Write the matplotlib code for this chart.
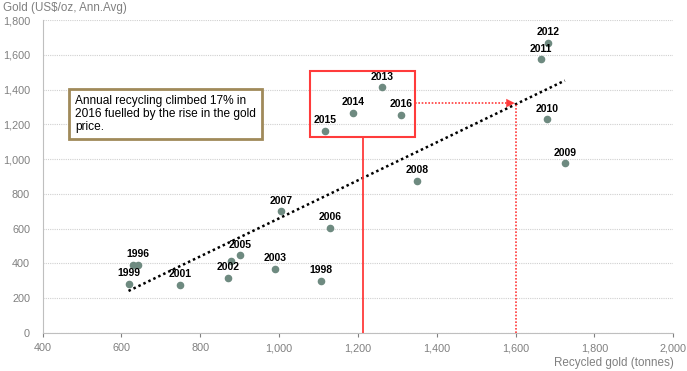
import numpy as np
import matplotlib.pyplot as plt

plt.rcParams['font.family'] = ['Liberation Sans', 'DejaVu Sans']

# recycled gold (tonnes) vs gold price (US$/oz, annual avg)
years = ['', '1996', '1998', '1999', '2001', '2002', '2004', '2005', '2003',
         '2007', '2006', '2008', '2009', '2010', '2011', '2012', '2013',
         '2014', '2015', '2016']
label_on = [False, True, True, True, True, True, False, True, True,
            True, True, True, True, True, True, True, True,
            True, True, True]
recycled = [629, 642, 1107, 618, 748, 871, 879, 901, 990,
            1005, 1130, 1350, 1725, 1679, 1665, 1682, 1261,
            1188, 1116, 1310]
gold = [390, 390, 298, 282, 276, 315, 412, 445, 369,
        699, 605, 875, 975, 1229, 1574, 1670, 1414,
        1267, 1163, 1255]

xticks = [400, 600, 800, 1000, 1200, 1400, 1600, 1800, 2000]
yticks = [0, 200, 400, 600, 800, 1000, 1200, 1400, 1600, 1800]

grey = '#808080'
red = '#ff3b3b'

fig = plt.figure(figsize=(6.87, 3.71), dpi=100)
ax = fig.add_axes([0.062, 0.103, 0.918, 0.843])

ax.set_xlim(400, 2000)
ax.set_ylim(0, 1800)
ax.set_xticks(xticks)
ax.set_yticks(yticks)
ax.set_xticklabels(['{:,}'.format(v) for v in xticks])
ax.set_yticklabels(['{:,}'.format(v) for v in yticks])
ax.tick_params(colors=grey, labelsize=7.8, length=3, width=0.8)
ax.tick_params(axis='x', pad=4.5)
ax.tick_params(axis='y', length=0, pad=9)
for s in ['top', 'right']:
    ax.spines[s].set_visible(False)
ax.spines['left'].set_color('#bfbfbf')
ax.spines['bottom'].set_color('#bfbfbf')
ax.yaxis.grid(True, color='#d0d0d0', linestyle=(0, (1, 1)), linewidth=0.8)
ax.set_axisbelow(True)

# trendline
x = np.array(recycled)
y = np.array(gold)
k, b = np.polyfit(x, y, 1)
xx = np.array([x.min(), x.max()])
ax.plot(xx, k * xx + b, color='black', linestyle=(0, (1, 1.2)), linewidth=1.8, zorder=2)

ax.scatter(recycled, gold, s=20, color='#6e8a80', zorder=3)
for xi, yi, t, on in zip(recycled, gold, years, label_on):
    if on:
        ax.annotate(t, (xi, yi), xytext=(0, 4), textcoords='offset points',
                    ha='center', va='bottom', fontsize=7.5, fontweight='bold')

# red box around recent years
ax.add_patch(plt.Rectangle((1079, 1128), 267, 380, fill=False,
                           edgecolor=red, linewidth=1.5, zorder=4))
ax.plot([1212, 1212], [0, 1128], color=red, linewidth=1.3, zorder=4)
ax.plot([1346, 1590], [1322, 1322], color=red, linewidth=1.2,
        linestyle=(0, (1, 1)), zorder=4)
ax.annotate('', xy=(1605, 1322), xytext=(1575, 1322),
            arrowprops=dict(arrowstyle='-|>', color=red, lw=0.1,
                            mutation_scale=15), zorder=4)
ax.plot([1600, 1600], [0, 1322], color=red, linewidth=1.2,
        linestyle=(0, (1, 1)), zorder=4)

ax.text(482, 1259, 'Annual recycling climbed 17% in\n2016 fuelled by the rise in the gold\nprice.',
        fontsize=8.6, va='center', ha='left', linespacing=1.15,
        bbox=dict(boxstyle='square,pad=0.5', facecolor='white',
                  edgecolor='#a08a5a', linewidth=2))

fig.text(0.005, 0.995, 'Gold (US$/oz, Ann.Avg)', color=grey, fontsize=8.4,
         ha='left', va='top')
fig.text(0.981, 0.005, 'Recycled gold (tonnes)', color=grey, fontsize=8.4,
         ha='right', va='bottom')

fig.savefig('out.png', dpi=100)
